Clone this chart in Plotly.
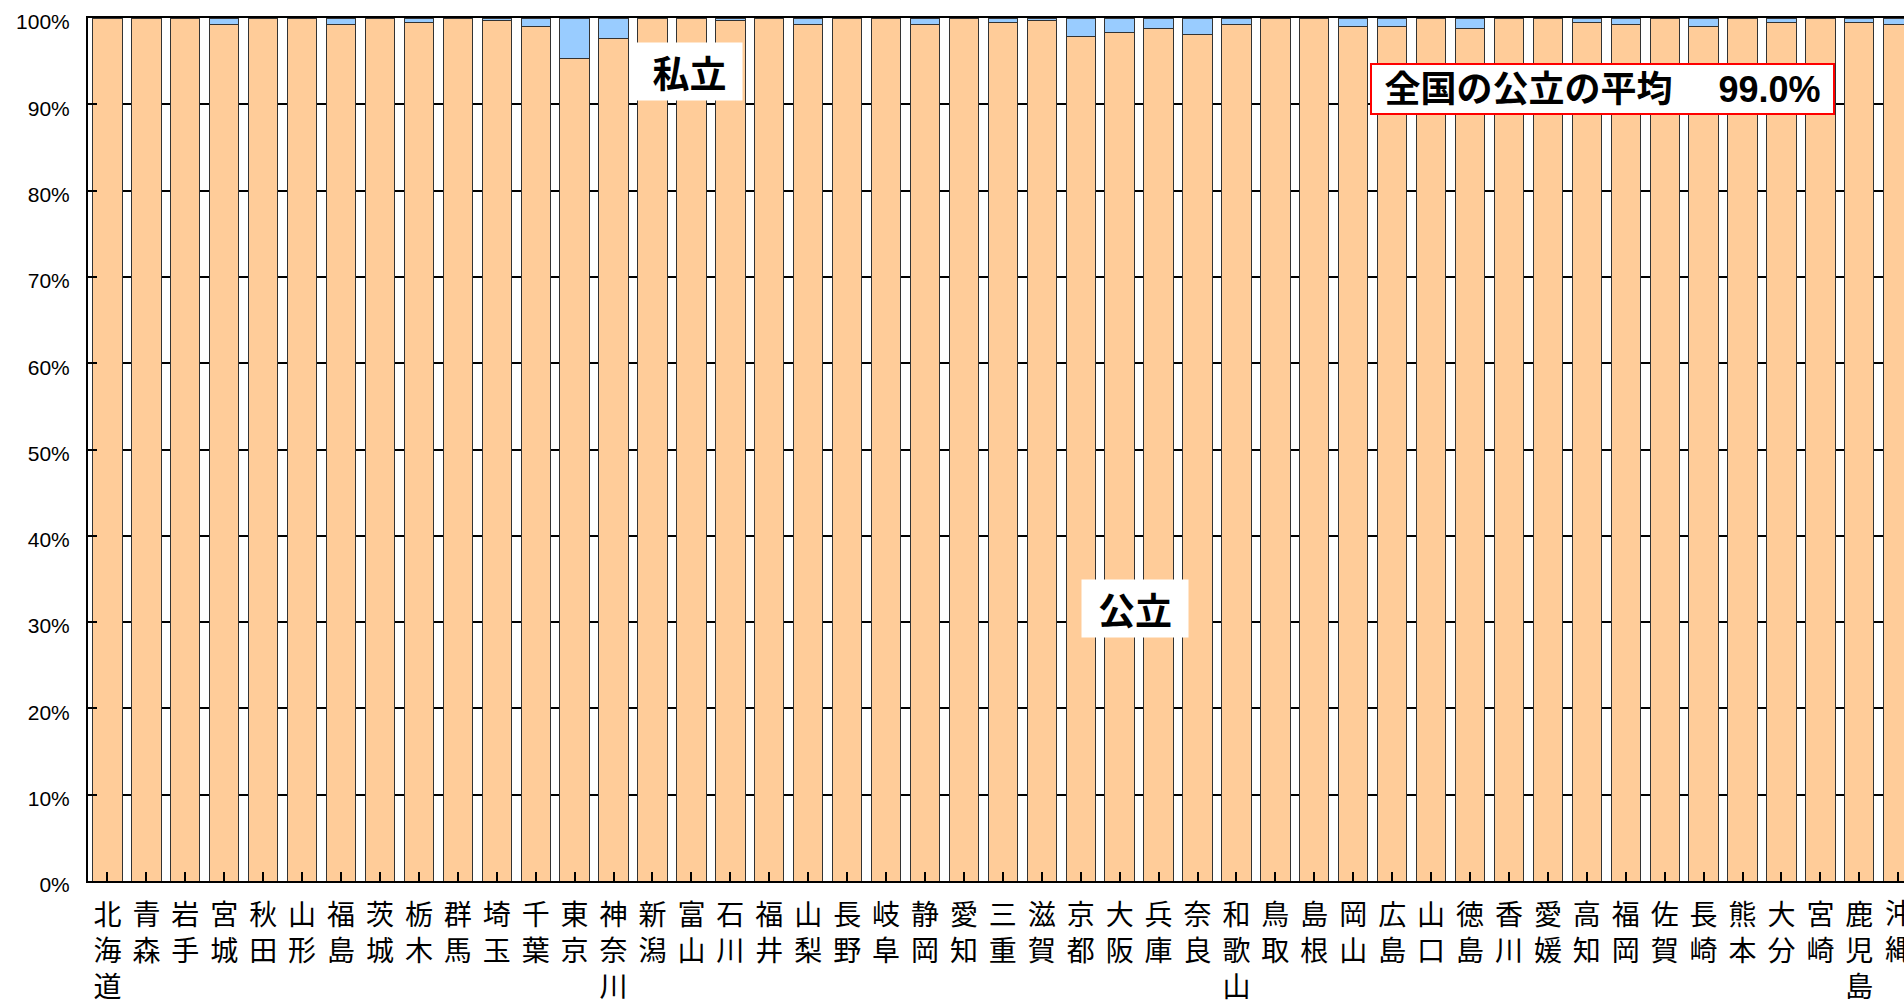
import plotly.graph_objects as go

prefectures = ["北海道", "青森", "岩手", "宮城", "秋田", "山形", "福島", "茨城", "栃木", "群馬",
               "埼玉", "千葉", "東京", "神奈川", "新潟", "富山", "石川", "福井", "山梨", "長野",
               "岐阜", "静岡", "愛知", "三重", "滋賀", "京都", "大阪", "兵庫", "奈良", "和歌山",
               "鳥取", "島根", "岡山", "広島", "山口", "徳島", "香川", "愛媛", "高知", "福岡",
               "佐賀", "長崎", "熊本", "大分", "宮崎", "鹿児島", "沖縄"]

# 私立 share (%)
private_pct = [0.0, 0.0, 0.0, 0.7, 0.0, 0.0, 0.7, 0.0, 0.5, 0.0,
               0.3, 1.0, 4.7, 2.4, 0.0, 0.0, 0.3, 0.0, 0.7, 0.0,
               0.0, 0.7, 0.0, 0.5, 0.3, 2.1, 1.7, 1.2, 1.9, 0.7,
               0.0, 0.0, 1.0, 1.0, 0.0, 1.2, 0.0, 0.0, 0.5, 0.7,
               0.0, 1.0, 0.0, 0.5, 0.0, 0.5, 0.7]

# 公立 share (%)
public_pct = [100.0, 100.0, 100.0, 99.3, 100.0, 100.0, 99.3, 100.0, 99.5, 100.0,
              99.7, 99.0, 95.3, 97.6, 100.0, 100.0, 99.7, 100.0, 99.3, 100.0,
              100.0, 99.3, 100.0, 99.5, 99.7, 97.9, 98.3, 98.8, 98.1, 99.3,
              100.0, 100.0, 99.0, 99.0, 100.0, 98.8, 100.0, 100.0, 99.5, 99.3,
              100.0, 99.0, 100.0, 99.5, 100.0, 99.5, 99.3]

y_ticks = [0, 10, 20, 30, 40, 50, 60, 70, 80, 90, 100]
y_ticktext = [f"{v}%" for v in y_ticks]

national_avg_label = "全国の公立の平均"
national_avg_value = "99.0%"

tick_labels = ["<br>".join(list(p)) for p in prefectures]
xs = list(range(len(prefectures)))

fig = go.Figure()
fig.add_trace(go.Bar(
    x=xs, y=public_pct, name="公立",
    marker=dict(color="#FFCC99", line=dict(color="#333333", width=1)),
))
fig.add_trace(go.Bar(
    x=xs, y=private_pct, name="私立",
    marker=dict(color="#99CCFF", line=dict(color="#333333", width=1)),
))

L, T, H = 88, 18, 868
W = 1904 - L
PITCH = 38.93

fig.update_layout(
    width=1904, height=1005,
    margin=dict(l=L, r=0, t=T, b=1005 - T - H, pad=0),
    barmode="stack", bargap=0.247,
    showlegend=False,
    plot_bgcolor="white", paper_bgcolor="white",
    font=dict(family="Liberation Sans, Noto Sans CJK JP", color="black"),
    xaxis=dict(
        tickmode="array", tickvals=xs, ticktext=tick_labels,
        range=[-0.5, -0.5 + W / PITCH],
        tickson="boundaries", ticks="inside", ticklen=9, tickwidth=1.5, tickcolor="black",
        showline=True, linecolor="black", linewidth=2, mirror=True,
        showgrid=False, zeroline=False,
        tickfont=dict(family="Noto Sans CJK JP", size=28, color="black"),
        tickangle=0, ticklabelstandoff=8,
    ),
    yaxis=dict(
        range=[0, 100], tickmode="array", tickvals=y_ticks, ticktext=y_ticktext,
        ticks="inside", ticklen=9, tickwidth=1.5, tickcolor="black",
        showline=True, linecolor="black", linewidth=2,
        showgrid=True, gridcolor="black", gridwidth=1.5, zeroline=False,
        tickfont=dict(family="Liberation Sans", size=21, color="black"),
        ticklabelstandoff=12, ticklabelshift=4,
    ),
)

def px_x(p):
    return (p - L) / W

def px_y(p):
    return (T + H - p) / H

fig.add_annotation(
    xref="paper", yref="paper", x=px_x(689.5), y=px_y(71.5),
    xanchor="center", yanchor="middle",
    text="<b>私立</b>", showarrow=False,
    font=dict(family="Noto Sans CJK JP", size=37, color="black"),
    bgcolor="white", width=105, height=57, borderpad=0,
)
fig.add_annotation(
    xref="paper", yref="paper", x=px_x(1135), y=px_y(611.5),
    xanchor="center", yanchor="middle",
    text="<b>公立</b>", showarrow=False,
    font=dict(family="Noto Sans CJK JP", size=37, color="black"),
    bgcolor="white", width=106, height=57, borderpad=0,
)
fig.add_annotation(
    xref="paper", yref="paper", x=px_x(1602.5), y=px_y(89),
    xanchor="center", yanchor="middle",
    text=f"<b>{national_avg_label}　 {national_avg_value}</b>", showarrow=False,
    font=dict(family="Liberation Sans, Noto Sans CJK JP", size=36, color="black"),
    bgcolor="white", bordercolor="red", borderwidth=2,
    width=461, height=48, borderpad=0,
)

# last category label, clipped at the right edge of the figure (as in the original)
last_i = len(prefectures) - 1
last_left = last_i - 14 / PITCH
clip_w = int(round(1904 - (L + (last_left + 0.5) * PITCH)))
fig.add_annotation(
    xref="x", yref="paper", x=last_left, y=px_y(896),
    xanchor="left", yanchor="top", align="left", valign="top",
    text=tick_labels[last_i], showarrow=False,
    font=dict(family="Noto Sans CJK JP", size=28, color="black"),
    width=clip_w, borderpad=0,
)

fig.write_html("out.html", config={"displayModeBar": False},
               post_script="document.body.style.margin='0';")
